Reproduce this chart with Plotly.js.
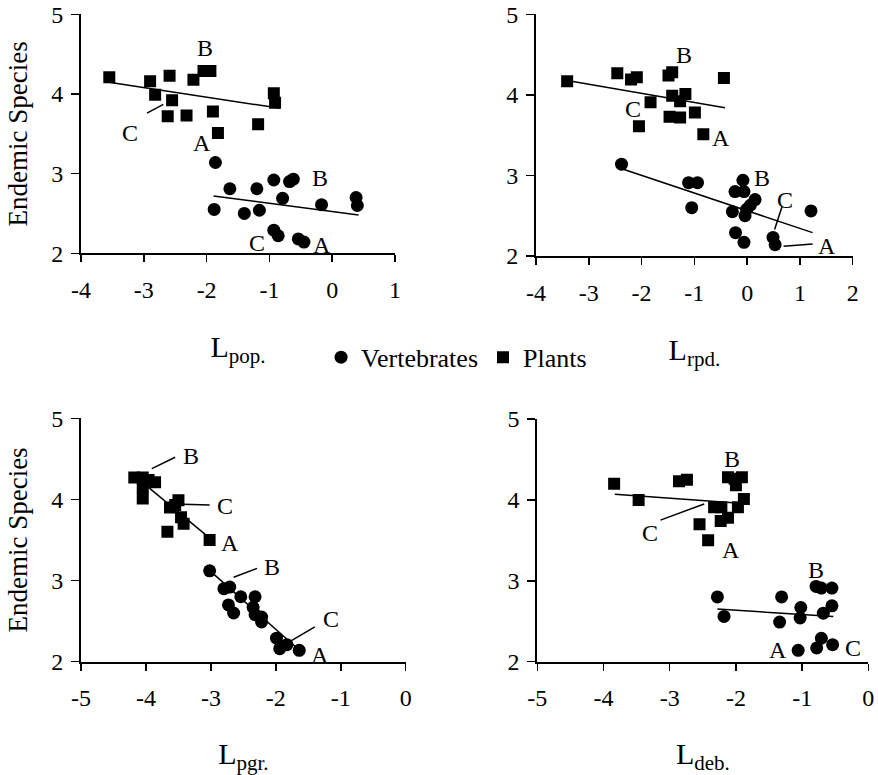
<!DOCTYPE html>
<html><head><meta charset="utf-8">
<script src="https://cdn.plot.ly/plotly-3.0.1.min.js"></script>
<style>html,body{margin:0;padding:0;background:#fff}</style>
</head><body>
<div id="chart" style="width:878px;height:775px"></div>
<script>
// ---- Panel 1: L pop.
const p1VertX  = [-1.86,-1.63,-1.88,-1.40,-1.20,-1.16,-0.93,-0.79,-0.68,-0.62,-0.93,-0.86,-0.54,-0.45,-0.17,0.38,0.40];
const p1VertY  = [3.14,2.81,2.55,2.50,2.81,2.54,2.92,2.69,2.90,2.93,2.29,2.22,2.18,2.14,2.61,2.70,2.60];
const p1PlantX = [-3.55,-2.90,-2.82,-2.59,-2.55,-2.62,-2.32,-2.21,-2.05,-1.94,-1.90,-1.82,-1.18,-0.93,-0.91];
const p1PlantY = [4.21,4.16,3.99,4.23,3.92,3.72,3.73,4.18,4.29,4.29,3.78,3.51,3.62,4.01,3.89];
const p1VertFitX = [-1.89,0.42],  p1VertFitY = [2.72,2.48];
const p1PlantFitX = [-3.58,-0.83], p1PlantFitY = [4.15,3.82];

// ---- Panel 2: L rpd.
const p2VertX  = [-2.38,-1.11,-0.94,-1.05,-0.08,-0.23,-0.06,-0.28,0.15,0.06,-0.01,-0.04,-0.22,-0.06,0.49,0.53,1.21];
const p2VertY  = [3.14,2.91,2.91,2.60,2.94,2.80,2.80,2.55,2.70,2.63,2.58,2.50,2.29,2.17,2.23,2.14,2.56];
const p2PlantX = [-3.41,-2.46,-2.20,-2.09,-2.05,-1.83,-1.49,-1.42,-1.42,-1.47,-1.27,-1.27,-1.17,-0.99,-0.83,-0.44];
const p2PlantY = [4.17,4.27,4.19,4.22,3.61,3.91,4.24,4.28,3.99,3.73,3.72,3.92,4.01,3.78,3.51,4.21];
const p2VertFitX = [-2.36,1.24],  p2VertFitY = [3.08,2.29];
const p2PlantFitX = [-3.41,-0.42], p2PlantFitY = [4.18,3.84];

// ---- Panel 3: L pgr.
const p3VertX  = [-3.02,-2.80,-2.71,-2.73,-2.65,-2.54,-2.32,-2.35,-2.32,-2.22,-2.22,-1.99,-1.94,-1.83,-1.64];
const p3VertY  = [3.12,2.90,2.92,2.70,2.60,2.80,2.80,2.67,2.58,2.55,2.49,2.29,2.16,2.21,2.14];
const p3PlantX = [-4.18,-4.05,-3.96,-3.86,-4.05,-4.05,-3.63,-3.50,-3.46,-3.42,-3.67,-3.02,-3.55];
const p3PlantY = [4.27,4.27,4.24,4.21,4.15,4.01,3.90,3.99,3.78,3.70,3.60,3.50,3.93];
const p3VertFitX = [-3.00,-1.65], p3VertFitY = [3.11,2.15];
const p3PlantFitX = [-4.10,-3.00], p3PlantFitY = [4.24,3.51];

// ---- Panel 4: L deb.
const p4VertX  = [-2.28,-2.18,-1.31,-1.34,-1.06,-1.02,-1.03,-0.79,-0.71,-0.55,-0.55,-0.68,-0.71,-0.78,-0.54];
const p4VertY  = [2.80,2.56,2.80,2.49,2.14,2.67,2.54,2.93,2.91,2.91,2.69,2.60,2.29,2.17,2.21];
const p4PlantX = [-3.84,-3.47,-2.86,-2.74,-2.55,-2.42,-2.33,-2.22,-2.23,-2.12,-2.12,-1.91,-2.00,-1.97,-1.88,-2.02];
const p4PlantY = [4.20,4.00,4.23,4.25,3.70,3.50,3.91,3.91,3.74,3.78,4.28,4.28,4.18,3.91,4.01,4.26];
const p4VertFitX = [-2.28,-0.53], p4VertFitY = [2.65,2.56];
const p4PlantFitX = [-3.83,-1.99], p4PlantFitY = [4.07,3.96];

// ---- Tick labels and titles
const xTicksTop1 = [-4,-3,-2,-1,0,1];
const xTicksTop2 = [-4,-3,-2,-1,0,1,2];
const xTicksBottom = [-5,-4,-3,-2,-1,0];
const yTicks = [2,3,4,5];
const seriesNames = ["Vertebrates","Plants"];
const xTitles = ["L<sub>pop.</sub>","L<sub>rpd.</sub>","L<sub>pgr.</sub>","L<sub>deb.</sub>"];
const yTitle = "Endemic Species";

const FONT = "Liberation Serif";
const panels = [
  {vx:p1VertX,vy:p1VertY,px:p1PlantX,py:p1PlantY,vfx:p1VertFitX,vfy:p1VertFitY,pfx:p1PlantFitX,pfy:p1PlantFitY},
  {vx:p2VertX,vy:p2VertY,px:p2PlantX,py:p2PlantY,vfx:p2VertFitX,vfy:p2VertFitY,pfx:p2PlantFitX,pfy:p2PlantFitY},
  {vx:p3VertX,vy:p3VertY,px:p3PlantX,py:p3PlantY,vfx:p3VertFitX,vfy:p3VertFitY,pfx:p3PlantFitX,pfy:p3PlantFitY},
  {vx:p4VertX,vy:p4VertY,px:p4PlantX,py:p4PlantY,vfx:p4VertFitX,vfy:p4VertFitY,pfx:p4PlantFitX,pfy:p4PlantFitY}
];
const axKeys = [["x","y"],["x2","y2"],["x3","y3"],["x4","y4"]];

const traces = [];
panels.forEach((p,i)=>{
  const [xa,ya] = axKeys[i];
  traces.push({x:p.vfx,y:p.vfy,xaxis:xa,yaxis:ya,mode:"lines",line:{color:"#000",width:1.5},showlegend:false,hoverinfo:"skip"});
  traces.push({x:p.pfx,y:p.pfy,xaxis:xa,yaxis:ya,mode:"lines",line:{color:"#000",width:1.5},showlegend:false,hoverinfo:"skip"});
  traces.push({x:p.vx,y:p.vy,xaxis:xa,yaxis:ya,mode:"markers",name:seriesNames[0],
    marker:{symbol:"circle",size:13,color:"#000"},showlegend:i===0});
  traces.push({x:p.px,y:p.py,xaxis:xa,yaxis:ya,mode:"markers",name:seriesNames[1],
    marker:{symbol:"square",size:12,color:"#000"},showlegend:i===0});
});

const tickText = v => v.map(t => String(t));   // plain hyphen-minus as in the original

function xaxis(dom, rng, ticks, title, anchor){
  return {domain:dom, range:rng, anchor:anchor, tickmode:"array", tickvals:ticks, ticktext:tickText(ticks),
    showgrid:false, zeroline:false, showline:true,
    linecolor:"#000", linewidth:2, ticks:"outside", ticklen:7, tickwidth:1.5, tickcolor:"#000",
    ticklabelstandoff:7, tickfont:{family:FONT,size:24,color:"#000"},
    title:{text:title, font:{family:FONT,size:30,color:"#000"}, standoff:34}};
}
function yaxis(dom, title, anchor){
  const a = {domain:dom, range:[2,5], anchor:anchor, tickmode:"array", tickvals:yTicks, ticktext:tickText(yTicks),
    showgrid:false, zeroline:false, showline:true,
    linecolor:"#000", linewidth:2, ticks:"outside", ticklen:8, tickwidth:1.5, tickcolor:"#000",
    ticklabelstandoff:3, tickfont:{family:FONT,size:24,color:"#000"}};
  if (title) a.title = {text:title, font:{family:FONT,size:27,color:"#000"}, standoff:16};
  return a;
}

const labels = [
  // [text, x, y, panel]
  ["B",-2.03,4.58,1],["C",-3.22,3.51,1],["A",-2.08,3.39,1],["B",-0.19,2.94,1],["C",-1.20,2.13,1],["A",-0.17,2.10,1],
  ["B",-1.19,4.50,2],["C",-2.17,3.83,2],["A",-0.49,3.47,2],["B",0.28,2.97,2],["C",0.72,2.70,2],["A",1.51,2.12,2],
  ["B",-3.31,4.53,3],["C",-2.78,3.92,3],["A",-2.71,3.46,3],["B",-2.06,3.17,3],["C",-1.15,2.52,3],["A",-1.32,2.08,3],
  ["B",-2.06,4.51,4],["C",-3.30,3.59,4],["A",-2.08,3.38,4],["B",-0.79,3.13,4],["A",-1.36,2.15,4],["C",-0.23,2.17,4]
];
const leaders = [
  [-2.95,3.76,-2.69,3.87,1],
  [0.66,2.61,0.52,2.33,2],[0.69,2.12,1.24,2.15,2],
  [-3.91,4.38,-3.55,4.52,3],[-3.43,3.94,-3.02,3.93,3],[-2.65,3.04,-2.29,3.15,3],[-1.76,2.26,-1.40,2.43,3],
  [-3.14,3.75,-2.48,3.95,4]
];
const ref = n => n===1 ? ["x","y"] : ["x"+n,"y"+n];

const annotations = labels.map(([t,x,y,n])=>({text:t,x:x,y:y,xref:ref(n)[0],yref:ref(n)[1],showarrow:false,
  font:{family:FONT,size:24,color:"#000"}}));
const shapes = leaders.map(([x0,y0,x1,y1,n])=>({type:"line",x0,y0,x1,y1,xref:ref(n)[0],yref:ref(n)[1],
  line:{color:"#000",width:1.5}}));

const layout = {
  width:878, height:775, margin:{l:0,r:0,t:0,b:0},
  paper_bgcolor:"#fff", plot_bgcolor:"#fff",
  font:{family:FONT,color:"#000",size:24},
  xaxis:  xaxis([0.0923,0.4499],[-4,1],xTicksTop1,xTitles[0],"y"),
  yaxis:  yaxis([0.6732,0.9815],yTitle,"x"),
  xaxis2: xaxis([0.6105,0.9712],[-4,2],xTicksTop2,xTitles[1],"y2"),
  yaxis2: yaxis([0.6697,0.9815],null,"x2"),
  xaxis3: xaxis([0.0923,0.4621],[-5,0],xTicksBottom,xTitles[2],"y3"),
  yaxis3: yaxis([0.1462,0.4603],yTitle,"x3"),
  xaxis4: xaxis([0.612,0.989],[-5,0],xTicksBottom,xTitles[3],"y4"),
  yaxis4: yaxis([0.1462,0.4594],null,"x4"),
  showlegend:true,
  legend:{orientation:"h", x:0.52, xanchor:"center", y:0.539, yanchor:"middle",
    font:{family:FONT,size:26,color:"#000"}, itemwidth:30, bgcolor:"rgba(0,0,0,0)"},
  annotations, shapes
};

Plotly.newPlot("chart", traces, layout, {staticPlot:true, displayModeBar:false});
</script>
</body></html>
